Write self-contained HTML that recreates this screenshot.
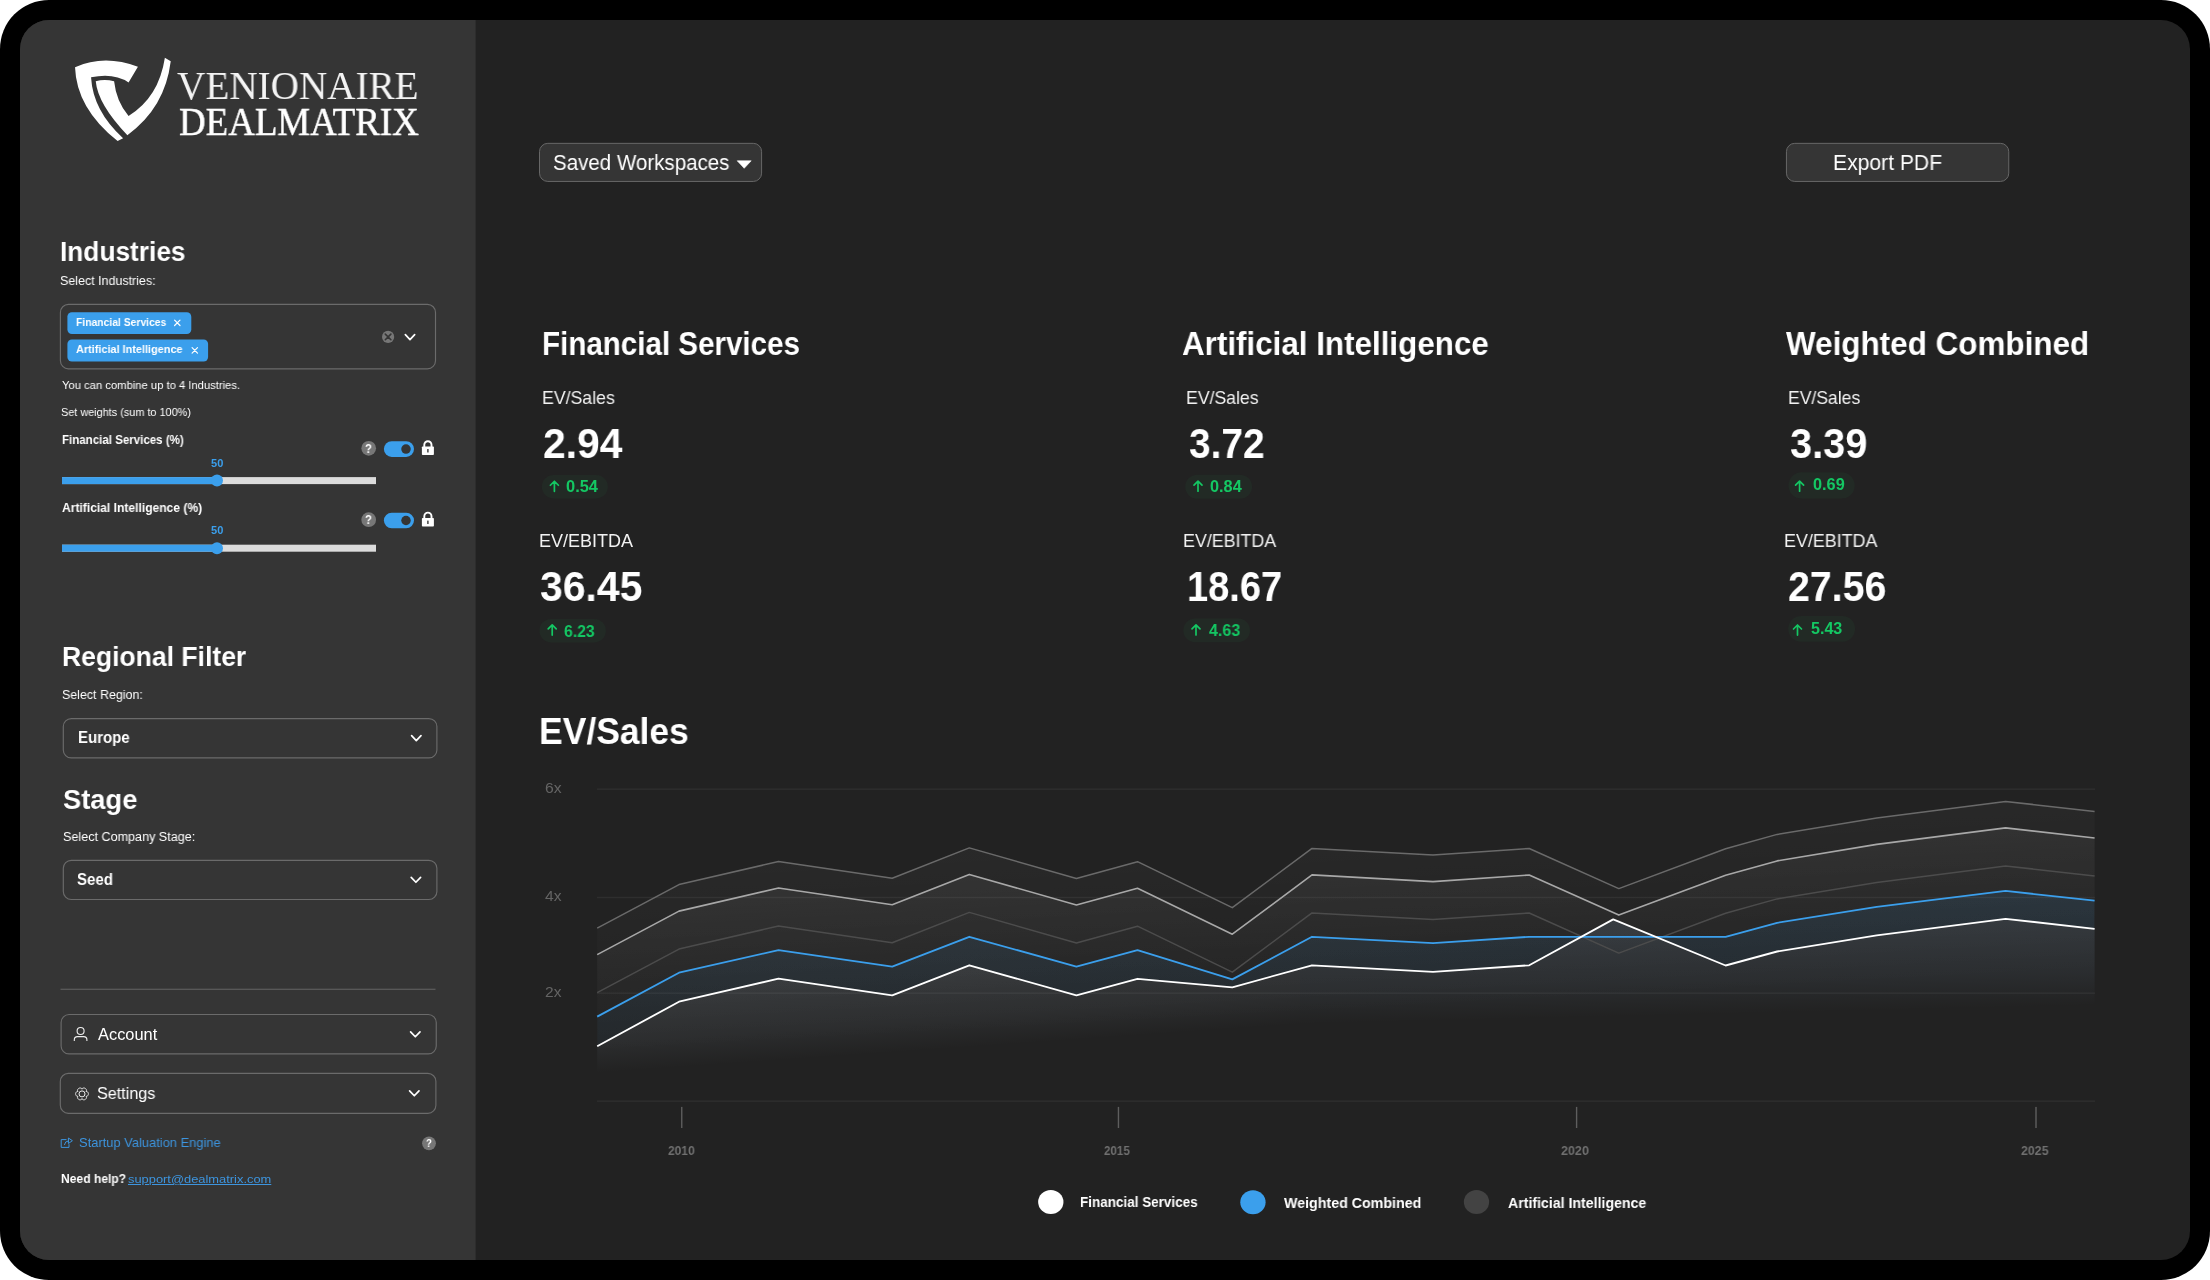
<!DOCTYPE html><html lang="en"><head><meta charset="utf-8"><title>Venionaire Dealmatrix</title><style>

html,body{margin:0;padding:0;background:#fff}
body{width:2210px;height:1280px;overflow:hidden;position:relative;font-family:"Liberation Sans",sans-serif}
.abs{position:absolute;display:block}
.t{position:absolute;white-space:pre;transform-origin:0 0;display:block;will-change:transform}

</style></head><body>
<svg class="abs" style="left:0;top:0" width="2210" height="1280" viewBox="0 0 2210 1280"><defs><linearGradient id="g1" gradientUnits="userSpaceOnUse" x1="2000.0" y1="802" x2="2007.2" y2="932.0"><stop offset="0" stop-color="#fff" stop-opacity="0.03"/><stop offset="1" stop-color="#fff" stop-opacity="0"/></linearGradient><linearGradient id="g2" gradientUnits="userSpaceOnUse" x1="2000.0" y1="828" x2="2008.2" y2="978.0"><stop offset="0" stop-color="#fff" stop-opacity="0.052"/><stop offset="1" stop-color="#fff" stop-opacity="0"/></linearGradient><linearGradient id="gb" gradientUnits="userSpaceOnUse" x1="2000.0" y1="891" x2="1994.0" y2="1191.0"><stop offset="0" stop-color="#3b9fec" stop-opacity="0.105"/><stop offset="1" stop-color="#3b9fec" stop-opacity="0"/></linearGradient><linearGradient id="gw" gradientUnits="userSpaceOnUse" x1="1300.0" y1="939" x2="1302.0" y2="1024.0"><stop offset="0" stop-color="#a8d0f8" stop-opacity="0.115"/><stop offset="0.6" stop-color="#a8d0f8" stop-opacity="0.0633"/><stop offset="1" stop-color="#a8d0f8" stop-opacity="0"/></linearGradient><linearGradient id="gwl" gradientUnits="userSpaceOnUse" x1="1300.0" y1="949" x2="1305.2" y2="1024.0"><stop offset="0" stop-color="#c8def4" stop-opacity="0.105"/><stop offset="0.6" stop-color="#c8def4" stop-opacity="0.0578"/><stop offset="1" stop-color="#c8def4" stop-opacity="0"/></linearGradient><clipPath id="cl"><rect x="590" y="770" width="710" height="340"/></clipPath><clipPath id="cr"><rect x="1300" y="770" width="800" height="340"/></clipPath><clipPath id="aw"><path d="M597,770 L597.2,1046.3 L679.0,1001.7 L778.5,978.6 L892.2,995.3 L969.3,965.3 L1076.4,995.3 L1137.5,978.8 L1232.3,987.3 L1312.0,965.3 L1433.0,971.9 L1529.2,965.3 L1613.2,919.4 L1725.6,965.5 L1777.1,951.5 L1876.7,935.3 L2005.6,918.8 L2094.6,928.9 L2095,770 Z"/></clipPath><clipPath id="pc"><rect x="20" y="20" width="2170" height="1240" rx="29" ry="29"/></clipPath></defs><rect x="0" y="0" width="2210" height="1280" rx="49" ry="49" fill="#000"/><g clip-path="url(#pc)"><rect x="20" y="20" width="2170" height="1240" fill="#222222"/><rect x="20" y="20" width="455.6" height="1240" fill="#353535"/></g><g transform="translate(68,50) scale(0.078125)"><path fill="#fff" d="M90,220 Q468,53 895,215 L775,415 Q585,288 295,350 Q320,780 705,1130 L635,1165 Q108,748 90,220 Z"/><path fill="#fff" d="M355,400 Q468,366 590,400 Q618,658 775,845 Q1162,608 1240,100 L1315,145 Q1242,742 760,1090 Q382,695 355,400 Z"/></g><rect x="60.40" y="304.40" width="375.10" height="64.40" rx="8" ry="8" fill="none" stroke="#6b6b6b" stroke-width="1.15"/><rect x="67.4" y="312.2" width="123.9" height="21.8" rx="4.5" fill="#3b9fec"/><rect x="67.4" y="339.4" width="140.7" height="22.1" rx="4.5" fill="#3b9fec"/><path d="M174.60,320.10 L180.00,325.50 M180.00,320.10 L174.60,325.50" stroke="#fff" stroke-width="1.2" stroke-linecap="round" fill="none"/><path d="M192.10,347.70 L197.50,353.10 M197.50,347.70 L192.10,353.10" stroke="#fff" stroke-width="1.2" stroke-linecap="round" fill="none"/><circle cx="388.1" cy="336.9" r="6.1" fill="#777"/><path d="M385.30,334.10 L390.90,339.70 M390.90,334.10 L385.30,339.70" stroke="#353535" stroke-width="1.6" stroke-linecap="round" fill="none"/><polyline points="405.35,334.70 410.00,339.60 414.65,334.70" fill="none" stroke="#fff" stroke-width="1.7" stroke-linecap="round" stroke-linejoin="round"/><rect x="62" y="477.1" width="314" height="7" fill="#dcdcdc"/><rect x="62" y="477.1" width="155" height="7" fill="#3b9fec"/><circle cx="217" cy="480.6" r="6" fill="#3b9fec"/><rect x="62" y="544.7" width="314" height="7" fill="#dcdcdc"/><rect x="62" y="544.7" width="155" height="7" fill="#3b9fec"/><circle cx="217" cy="548.2" r="6" fill="#3b9fec"/><circle cx="368.7" cy="448.3" r="7.35" fill="#777"/><rect x="383.9" y="441.3" width="30.1" height="15.6" rx="7.8" fill="#3b9fec"/><circle cx="406.00" cy="449.10" r="4.75" fill="#353535"/><g transform="translate(421.9,440.2)"><path d="M2.4 7 V4.6 A3.6 3.6 0 0 1 9.6 4.6 V7" fill="none" stroke="#fff" stroke-width="1.9"/><rect x="0" y="6.3" width="12" height="8.6" rx="0.8" fill="#fff"/><rect x="5.3" y="8.8" width="1.4" height="3.6" rx="0.5" fill="#353535"/></g><circle cx="368.7" cy="519.7" r="7.35" fill="#777"/><rect x="383.9" y="512.7" width="30.1" height="15.6" rx="7.8" fill="#3b9fec"/><circle cx="406.00" cy="520.50" r="4.75" fill="#353535"/><g transform="translate(421.9,511.6)"><path d="M2.4 7 V4.6 A3.6 3.6 0 0 1 9.6 4.6 V7" fill="none" stroke="#fff" stroke-width="1.9"/><rect x="0" y="6.3" width="12" height="8.6" rx="0.8" fill="#fff"/><rect x="5.3" y="8.8" width="1.4" height="3.6" rx="0.5" fill="#353535"/></g><rect x="63.30" y="718.60" width="373.60" height="39.35" rx="8" ry="8" fill="none" stroke="#6b6b6b" stroke-width="1.15"/><polyline points="411.60,735.70 416.30,740.60 421.00,735.70" fill="none" stroke="#fff" stroke-width="1.7" stroke-linecap="round" stroke-linejoin="round"/><rect x="63.30" y="860.30" width="373.60" height="39.20" rx="8" ry="8" fill="none" stroke="#6b6b6b" stroke-width="1.15"/><polyline points="411.20,877.35 415.90,882.25 420.60,877.35" fill="none" stroke="#fff" stroke-width="1.7" stroke-linecap="round" stroke-linejoin="round"/><rect x="60.5" y="988.7" width="375" height="1.2" fill="#5c5c5c"/><rect x="61.10" y="1014.45" width="375.15" height="39.45" rx="8" ry="8" fill="none" stroke="#6b6b6b" stroke-width="1.15"/><polyline points="410.60,1031.85 415.30,1036.75 420.00,1031.85" fill="none" stroke="#fff" stroke-width="1.7" stroke-linecap="round" stroke-linejoin="round"/><rect x="60.30" y="1073.40" width="375.60" height="39.90" rx="8" ry="8" fill="none" stroke="#6b6b6b" stroke-width="1.15"/><polyline points="409.60,1090.85 414.30,1095.75 419.00,1090.85" fill="none" stroke="#fff" stroke-width="1.7" stroke-linecap="round" stroke-linejoin="round"/><circle cx="80.6" cy="1031" r="3.5" fill="none" stroke="#eee" stroke-width="1.1"/><path d="M74.3,1041 V1039.8 A3.2 3.2 0 0 1 77.5,1036.6 H83.7 A3.2 3.2 0 0 1 86.9,1039.8 V1041" fill="none" stroke="#eee" stroke-width="1.1"/><path d="M82.00,1089.20 L82.35,1088.52 L82.74,1088.25 L83.16,1088.08 L83.58,1088.00 L84.00,1088.00 L84.42,1088.05 L84.82,1088.18 L85.20,1088.36 L85.55,1088.59 L85.85,1088.88 L86.11,1089.21 L86.32,1089.58 L86.46,1089.99 L86.52,1090.43 L86.48,1090.90 L86.07,1091.55 L86.84,1091.52 L87.27,1091.72 L87.62,1091.99 L87.90,1092.32 L88.12,1092.68 L88.27,1093.07 L88.37,1093.48 L88.40,1093.90 L88.37,1094.32 L88.27,1094.73 L88.12,1095.12 L87.90,1095.48 L87.62,1095.81 L87.27,1096.08 L86.84,1096.28 L86.07,1096.25 L86.48,1096.90 L86.52,1097.37 L86.46,1097.81 L86.32,1098.22 L86.11,1098.59 L85.85,1098.92 L85.55,1099.21 L85.20,1099.44 L84.82,1099.62 L84.42,1099.75 L84.00,1099.80 L83.58,1099.80 L83.16,1099.72 L82.74,1099.55 L82.35,1099.28 L82.00,1098.60 L81.65,1099.28 L81.26,1099.55 L80.84,1099.72 L80.42,1099.80 L80.00,1099.80 L79.58,1099.75 L79.18,1099.62 L78.80,1099.44 L78.45,1099.21 L78.15,1098.92 L77.89,1098.59 L77.68,1098.22 L77.54,1097.81 L77.48,1097.37 L77.52,1096.90 L77.93,1096.25 L77.16,1096.28 L76.73,1096.08 L76.38,1095.81 L76.10,1095.48 L75.88,1095.12 L75.73,1094.73 L75.63,1094.32 L75.60,1093.90 L75.63,1093.48 L75.73,1093.07 L75.88,1092.68 L76.10,1092.32 L76.38,1091.99 L76.73,1091.72 L77.16,1091.52 L77.93,1091.55 L77.52,1090.90 L77.48,1090.43 L77.54,1089.99 L77.68,1089.58 L77.89,1089.21 L78.15,1088.88 L78.45,1088.59 L78.80,1088.36 L79.18,1088.18 L79.58,1088.05 L80.00,1088.00 L80.42,1088.00 L80.84,1088.08 L81.26,1088.25 L81.65,1088.52 Z" fill="none" stroke="#eee" stroke-width="1" stroke-linejoin="round"/><circle cx="82.0" cy="1093.9" r="3.0" fill="none" stroke="#eee" stroke-width="1"/><path d="M66.5,1139.6 H61.2 V1147.4 H69 V1144.2" fill="none" stroke="#3d95df" stroke-width="1"/><path d="M64.4,1145 Q64.8,1141 69,1140.8 M68.4,1138 L72.4,1140.7 L68.4,1143.5 Z" fill="none" stroke="#3d95df" stroke-width="1" stroke-linejoin="round"/><circle cx="429" cy="1143.3" r="6.9" fill="#777"/><rect x="539.50" y="143.35" width="222.10" height="38.10" rx="8.3" ry="8.3" fill="#353535" stroke="#6a6a6a" stroke-width="0.95"/><path d="M737.2,160.8 H751.2 L744.2,168.3 Z" fill="#fff" stroke="#fff" stroke-width="0.6" stroke-linejoin="round"/><rect x="1786.45" y="143.35" width="222.30" height="38.10" rx="8.3" ry="8.3" fill="#353535" stroke="#6a6a6a" stroke-width="0.95"/><rect x="541.8" y="475.0" width="66.10" height="23.50" rx="11.75" fill="#222a25"/><path d="M554.40 491.35 V481.35 M550.40 485.25 L554.40 481.25 L558.40 485.25" fill="none" stroke="#14c763" stroke-width="1.7" stroke-linecap="round" stroke-linejoin="round"/><rect x="539.4" y="618.9" width="66.50" height="23.50" rx="11.75" fill="#222a25"/><path d="M552.20 635.05 V625.05 M548.20 628.95 L552.20 624.95 L556.20 628.95" fill="none" stroke="#14c763" stroke-width="1.7" stroke-linecap="round" stroke-linejoin="round"/><rect x="1185.2" y="474.7" width="66.90" height="24.10" rx="12.05" fill="#222a25"/><path d="M1198.00 491.20 V481.20 M1194.00 485.10 L1198.00 481.10 L1202.00 485.10" fill="none" stroke="#14c763" stroke-width="1.7" stroke-linecap="round" stroke-linejoin="round"/><rect x="1183.3" y="618.55" width="66.70" height="23.65" rx="11.83" fill="#222a25"/><path d="M1196.00 634.90 V624.90 M1192.00 628.80 L1196.00 624.80 L1200.00 628.80" fill="none" stroke="#14c763" stroke-width="1.7" stroke-linecap="round" stroke-linejoin="round"/><rect x="1788.5" y="472.3" width="66.25" height="26.20" rx="13.10" fill="#222a25"/><path d="M1799.60 491.20 V481.20 M1795.60 485.10 L1799.60 481.10 L1803.60 485.10" fill="none" stroke="#14c763" stroke-width="1.7" stroke-linecap="round" stroke-linejoin="round"/><rect x="1788.2" y="616.0" width="66.90" height="25.70" rx="12.85" fill="#222a25"/><path d="M1797.50 635.10 V625.10 M1793.50 629.00 L1797.50 625.00 L1801.50 629.00" fill="none" stroke="#14c763" stroke-width="1.7" stroke-linecap="round" stroke-linejoin="round"/><rect x="597" y="788.45" width="1498" height="1.5" fill="#2e2e2e"/><rect x="597" y="896.75" width="1498" height="1.5" fill="#2e2e2e"/><rect x="597" y="992.45" width="1498" height="1.5" fill="#2e2e2e"/><rect x="597" y="1100.45" width="1498" height="1.5" fill="#2e2e2e"/><path d="M597.2,1101.2 L597.2,928.1 L679.0,884.6 L778.5,861.5 L892.2,878.2 L969.3,847.9 L1076.4,878.5 L1137.5,861.7 L1232.3,907.7 L1312.0,848.4 L1433.0,855.1 L1529.2,848.5 L1618.8,888.6 L1725.6,848.8 L1777.1,834.4 L1876.7,817.9 L2005.6,801.4 L2094.6,811.5 L2094.6,1101.2 Z" fill="url(#g1)"/><path d="M597.2,1101.2 L597.2,954.6 L679.0,911.1 L778.5,888.0 L892.2,904.7 L969.3,874.4 L1076.4,905.0 L1137.5,888.2 L1232.3,934.2 L1312.0,874.9 L1433.0,881.6 L1529.2,875.0 L1618.8,915.1 L1725.6,875.3 L1777.1,860.9 L1876.7,844.4 L2005.6,827.9 L2094.6,838.0 L2094.6,1101.2 Z" fill="url(#g2)"/><path d="M597.2,1101.2 L597.2,1016.6 L679.0,972.7 L778.5,950.1 L892.2,966.6 L969.3,936.8 L1076.4,966.6 L1137.5,950.1 L1232.3,979.4 L1312.0,936.8 L1433.0,943.2 L1529.2,936.8 L1618.8,936.8 L1725.6,936.9 L1777.1,922.8 L1876.7,906.8 L2005.6,890.9 L2094.6,900.7 L2094.6,1101.2 Z" fill="url(#gb)" clip-path="url(#aw)"/><path d="M597.2,1101.2 L597.2,1046.3 L679.0,1001.7 L778.5,978.6 L892.2,995.3 L969.3,965.3 L1076.4,995.3 L1137.5,978.8 L1232.3,987.3 L1312.0,965.3 L1433.0,971.9 L1529.2,965.3 L1613.2,919.4 L1725.6,965.5 L1777.1,951.5 L1876.7,935.3 L2005.6,918.8 L2094.6,928.9 L2094.6,1101.2 Z" fill="url(#gwl)" clip-path="url(#cl)"/><path d="M597.2,1101.2 L597.2,1046.3 L679.0,1001.7 L778.5,978.6 L892.2,995.3 L969.3,965.3 L1076.4,995.3 L1137.5,978.8 L1232.3,987.3 L1312.0,965.3 L1433.0,971.9 L1529.2,965.3 L1613.2,919.4 L1725.6,965.5 L1777.1,951.5 L1876.7,935.3 L2005.6,918.8 L2094.6,928.9 L2094.6,1101.2 Z" fill="url(#gw)" clip-path="url(#cr)"/><polyline points="597.2,928.1 679.0,884.6 778.5,861.5 892.2,878.2 969.3,847.9 1076.4,878.5 1137.5,861.7 1232.3,907.7 1312.0,848.4 1433.0,855.1 1529.2,848.5 1618.8,888.6 1725.6,848.8 1777.1,834.4 1876.7,817.9 2005.6,801.4 2094.6,811.5" fill="none" stroke="#6a6a6a" stroke-width="1.5" stroke-linejoin="round"/><polyline points="597.2,954.6 679.0,911.1 778.5,888.0 892.2,904.7 969.3,874.4 1076.4,905.0 1137.5,888.2 1232.3,934.2 1312.0,874.9 1433.0,881.6 1529.2,875.0 1618.8,915.1 1725.6,875.3 1777.1,860.9 1876.7,844.4 2005.6,827.9 2094.6,838.0" fill="none" stroke="#a8a8a8" stroke-width="1.6" stroke-linejoin="round"/><polyline points="597.2,992.6 679.0,949.1 778.5,926.0 892.2,942.7 969.3,912.4 1076.4,943.0 1137.5,926.2 1232.3,972.2 1312.0,912.9 1433.0,919.6 1529.2,913.0 1618.8,953.1 1725.6,913.3 1777.1,898.9 1876.7,882.4 2005.6,865.9 2094.6,876.0" fill="none" stroke="#4c4c4c" stroke-width="1.5" stroke-linejoin="round"/><polyline points="597.2,1016.6 679.0,972.7 778.5,950.1 892.2,966.6 969.3,936.8 1076.4,966.6 1137.5,950.1 1232.3,979.4 1312.0,936.8 1433.0,943.2 1529.2,936.8 1618.8,936.8 1725.6,936.9 1777.1,922.8 1876.7,906.8 2005.6,890.9 2094.6,900.7" fill="none" stroke="#3b9fec" stroke-width="1.85" stroke-linejoin="round"/><polyline points="597.2,1046.3 679.0,1001.7 778.5,978.6 892.2,995.3 969.3,965.3 1076.4,995.3 1137.5,978.8 1232.3,987.3 1312.0,965.3 1433.0,971.9 1529.2,965.3 1613.2,919.4 1725.6,965.5 1777.1,951.5 1876.7,935.3 2005.6,918.8 2094.6,928.9" fill="none" stroke="#fff" stroke-width="1.85" stroke-linejoin="round"/><rect x="681.05" y="1106.9" width="1.4" height="21.1" fill="#5e5e5e"/><rect x="1117.75" y="1106.9" width="1.4" height="21.1" fill="#5e5e5e"/><rect x="1575.90" y="1106.9" width="1.4" height="21.1" fill="#5e5e5e"/><rect x="2035.30" y="1106.9" width="1.4" height="21.1" fill="#5e5e5e"/><ellipse cx="1050.8" cy="1202.0" rx="12.65" ry="12.0" fill="#fff"/><ellipse cx="1252.95" cy="1202.2" rx="12.65" ry="12.0" fill="#3b9fec"/><ellipse cx="1476.5" cy="1202.0" rx="12.65" ry="12.0" fill="#434343"/></svg>
<aside>
<span class="t" style='left:60.25px;top:237.00px;font:700 28.27px/1 "Liberation Sans", sans-serif;color:#fff;transform:scaleX(0.9293);'>Industries</span>
<span class="t" style='left:59.50px;top:274.00px;font:400 13.08px/1 "Liberation Sans", sans-serif;color:#fff;transform:scaleX(0.9528);'>Select Industries:</span>
<span class="t" style='left:75.75px;top:317.00px;font:700 11.48px/1 "Liberation Sans", sans-serif;color:#fff;transform:scaleX(0.9019);'>Financial Services</span>
<span class="t" style='left:75.75px;top:344.00px;font:700 11.48px/1 "Liberation Sans", sans-serif;color:#fff;transform:scaleX(0.9496);'>Artificial Intelligence</span>
<span class="t" style='left:61.75px;top:380.00px;font:400 11.48px/1 "Liberation Sans", sans-serif;color:#fff;transform:scaleX(0.9790);'>You can combine up to 4 Industries.</span>
<span class="t" style='left:61.25px;top:407.00px;font:400 11.48px/1 "Liberation Sans", sans-serif;color:#fff;transform:scaleX(0.9479);'>Set weights (sum to 100%)</span>
<span class="t" style='left:62.25px;top:434.00px;font:700 12.35px/1 "Liberation Sans", sans-serif;color:#fff;transform:scaleX(0.9336);'>Financial Services (%)</span>
<span class="t" style='left:210.75px;top:458.00px;font:700 11.05px/1 "Liberation Sans", sans-serif;color:#3b9fec;transform:scaleX(0.9829);'>50</span>
<span class="t" style='left:61.75px;top:502.00px;font:700 12.50px/1 "Liberation Sans", sans-serif;color:#fff;transform:scaleX(0.9654);'>Artificial Intelligence (%)</span>
<span class="t" style='left:210.75px;top:525.00px;font:700 11.05px/1 "Liberation Sans", sans-serif;color:#3b9fec;transform:scaleX(0.9829);'>50</span>
<span class="t" style='left:61.50px;top:642.00px;font:700 28.20px/1 "Liberation Sans", sans-serif;color:#fff;transform:scaleX(0.9412);'>Regional Filter</span>
<span class="t" style='left:61.75px;top:688.00px;font:400 13.15px/1 "Liberation Sans", sans-serif;color:#fff;transform:scaleX(0.9457);'>Select Region:</span>
<span class="t" style='left:78.25px;top:730.00px;font:700 15.99px/1 "Liberation Sans", sans-serif;color:#fff;transform:scaleX(0.9359);'>Europe</span>
<span class="t" style='left:63.25px;top:785.00px;font:700 28.34px/1 "Liberation Sans", sans-serif;color:#fff;transform:scaleX(0.9634);'>Stage</span>
<span class="t" style='left:62.50px;top:830.00px;font:400 13.08px/1 "Liberation Sans", sans-serif;color:#fff;transform:scaleX(0.9623);'>Select Company Stage:</span>
<span class="t" style='left:76.50px;top:871.00px;font:700 16.13px/1 "Liberation Sans", sans-serif;color:#fff;transform:scaleX(0.9323);'>Seed</span>
<span class="t" style='left:98.00px;top:1026.00px;font:400 16.28px/1 "Liberation Sans", sans-serif;color:#fff;transform:scaleX(1.0088);'>Account</span>
<span class="t" style='left:96.50px;top:1086.00px;font:400 16.57px/1 "Liberation Sans", sans-serif;color:#fff;transform:scaleX(0.9756);'>Settings</span>
<span class="t" style='left:79.00px;top:1137.00px;font:400 12.94px/1 "Liberation Sans", sans-serif;color:#3d95df;transform:scaleX(0.9962);'>Startup Valuation Engine</span>
<span class="t" style='left:61.25px;top:1173.00px;font:700 12.21px/1 "Liberation Sans", sans-serif;color:#fff;transform:scaleX(0.9902);'>Need help?</span>
<span class="t" style='left:127.75px;top:1173.00px;font:400 11.73px/1 "Liberation Sans", sans-serif;color:#3d95df;transform:scaleX(1.0985);text-decoration:underline;text-underline-offset:1px;text-decoration-thickness:1px'>support@dealmatrix.com</span>
<span class="t" style='left:364.75px;top:443.00px;font:700 12.50px/1 "Liberation Sans", sans-serif;color:#fff;transform:scaleX(0.8972);'>?</span>
<span class="t" style='left:364.75px;top:514.00px;font:700 12.50px/1 "Liberation Sans", sans-serif;color:#fff;transform:scaleX(0.8972);'>?</span>
<span class="t" style='left:425.50px;top:1137.00px;font:700 11.63px/1 "Liberation Sans", sans-serif;color:#fff;transform:scaleX(0.8144);'>?</span>
<span class="t" style='left:176.50px;top:67.00px;font:400 39.69px/1 "Liberation Serif", serif;color:#f4f4f4;transform:scaleX(0.9879);'>VENIONAIRE</span>
<span class="t" style='left:178.75px;top:102.00px;font:400 40.46px/1 "Liberation Serif", serif;color:#fff;transform:scaleX(0.9118);-webkit-text-stroke:0.5px #fff'>DEALMATRIX</span>
</aside>
<main>
<span class="t" style='left:553.00px;top:152.00px;font:400 21.66px/1 "Liberation Sans", sans-serif;color:#fff;transform:scaleX(0.9478);'>Saved Workspaces</span>
<span class="t" style='left:1833.25px;top:152.00px;font:400 21.22px/1 "Liberation Sans", sans-serif;color:#fff;transform:scaleX(0.9948);'>Export PDF</span>
<span class="t" style='left:542.25px;top:327.00px;font:700 33.14px/1 "Liberation Sans", sans-serif;color:#fff;transform:scaleX(0.8921);'>Financial Services</span>
<span class="t" style='left:1181.50px;top:327.00px;font:700 32.99px/1 "Liberation Sans", sans-serif;color:#fff;transform:scaleX(0.9508);'>Artificial Intelligence</span>
<span class="t" style='left:1785.50px;top:327.00px;font:700 32.99px/1 "Liberation Sans", sans-serif;color:#fff;transform:scaleX(0.9528);'>Weighted Combined</span>
<span class="t" style='left:541.75px;top:389.00px;font:400 18.60px/1 "Liberation Sans", sans-serif;color:#f2f2f2;transform:scaleX(0.9520);'>EV/Sales</span>
<span class="t" style='left:1185.50px;top:389.00px;font:400 18.60px/1 "Liberation Sans", sans-serif;color:#f2f2f2;transform:scaleX(0.9492);'>EV/Sales</span>
<span class="t" style='left:1788.00px;top:389.00px;font:400 18.60px/1 "Liberation Sans", sans-serif;color:#f2f2f2;transform:scaleX(0.9446);'>EV/Sales</span>
<span class="t" style='left:539.00px;top:532.00px;font:400 18.02px/1 "Liberation Sans", sans-serif;color:#f2f2f2;transform:scaleX(0.9972);'>EV/EBITDA</span>
<span class="t" style='left:1183.00px;top:532.00px;font:400 18.02px/1 "Liberation Sans", sans-serif;color:#f2f2f2;transform:scaleX(0.9915);'>EV/EBITDA</span>
<span class="t" style='left:1784.00px;top:532.00px;font:400 18.02px/1 "Liberation Sans", sans-serif;color:#f2f2f2;transform:scaleX(0.9935);'>EV/EBITDA</span>
<span class="t" style='left:542.50px;top:423.00px;font:700 42.29px/1 "Liberation Sans", sans-serif;color:#fff;transform:scaleX(0.9662);'>2.94</span>
<span class="t" style='left:1189.00px;top:423.00px;font:700 42.29px/1 "Liberation Sans", sans-serif;color:#fff;transform:scaleX(0.9192);'>3.72</span>
<span class="t" style='left:1789.50px;top:422.00px;font:700 42.57px/1 "Liberation Sans", sans-serif;color:#fff;transform:scaleX(0.9331);'>3.39</span>
<span class="t" style='left:539.50px;top:566.00px;font:700 42.14px/1 "Liberation Sans", sans-serif;color:#fff;transform:scaleX(0.9714);'>36.45</span>
<span class="t" style='left:1186.50px;top:566.00px;font:700 41.86px/1 "Liberation Sans", sans-serif;color:#fff;transform:scaleX(0.9079);'>18.67</span>
<span class="t" style='left:1788.00px;top:566.00px;font:700 41.86px/1 "Liberation Sans", sans-serif;color:#fff;transform:scaleX(0.9390);'>27.56</span>
<span class="t" style='left:566.25px;top:478.00px;font:700 16.43px/1 "Liberation Sans", sans-serif;color:#14c763;transform:scaleX(0.9880);'>0.54</span>
<span class="t" style='left:564.25px;top:623.00px;font:700 16.43px/1 "Liberation Sans", sans-serif;color:#14c763;transform:scaleX(0.9594);'>6.23</span>
<span class="t" style='left:1209.75px;top:478.00px;font:700 16.29px/1 "Liberation Sans", sans-serif;color:#14c763;transform:scaleX(0.9957);'>0.84</span>
<span class="t" style='left:1208.50px;top:622.00px;font:700 16.29px/1 "Liberation Sans", sans-serif;color:#14c763;transform:scaleX(0.9832);'>4.63</span>
<span class="t" style='left:1813.00px;top:476.00px;font:700 16.29px/1 "Liberation Sans", sans-serif;color:#14c763;transform:scaleX(0.9890);'>0.69</span>
<span class="t" style='left:1811.25px;top:620.00px;font:700 16.07px/1 "Liberation Sans", sans-serif;color:#14c763;transform:scaleX(0.9856);'>5.43</span>
<span class="t" style='left:538.50px;top:713.00px;font:700 37.79px/1 "Liberation Sans", sans-serif;color:#fff;transform:scaleX(0.9391);'>EV/Sales</span>
<span class="t" style='left:544.50px;top:781.00px;font:400 14.29px/1 "Liberation Sans", sans-serif;color:#646464;transform:scaleX(1.1034);'>6x</span>
<span class="t" style='left:545.25px;top:889.00px;font:400 14.29px/1 "Liberation Sans", sans-serif;color:#646464;transform:scaleX(1.0975);'>4x</span>
<span class="t" style='left:544.50px;top:985.00px;font:400 14.29px/1 "Liberation Sans", sans-serif;color:#646464;transform:scaleX(1.0893);'>2x</span>
<span class="t" style='left:668.25px;top:1144.00px;font:700 13.14px/1 "Liberation Sans", sans-serif;color:#707070;transform:scaleX(0.9133);'>2010</span>
<span class="t" style='left:1103.50px;top:1144.00px;font:700 13.14px/1 "Liberation Sans", sans-serif;color:#707070;transform:scaleX(0.8826);'>2015</span>
<span class="t" style='left:1560.75px;top:1144.00px;font:700 13.14px/1 "Liberation Sans", sans-serif;color:#707070;transform:scaleX(0.9549);'>2020</span>
<span class="t" style='left:2020.75px;top:1144.00px;font:700 13.14px/1 "Liberation Sans", sans-serif;color:#707070;transform:scaleX(0.9424);'>2025</span>
<span class="t" style='left:1079.50px;top:1195.00px;font:700 14.83px/1 "Liberation Sans", sans-serif;color:#fff;transform:scaleX(0.9088);'>Financial Services</span>
<span class="t" style='left:1283.75px;top:1196.00px;font:700 14.83px/1 "Liberation Sans", sans-serif;color:#fff;transform:scaleX(0.9600);'>Weighted Combined</span>
<span class="t" style='left:1507.75px;top:1196.00px;font:700 14.83px/1 "Liberation Sans", sans-serif;color:#fff;transform:scaleX(0.9535);'>Artificial Intelligence</span>
</main>
</body></html>
